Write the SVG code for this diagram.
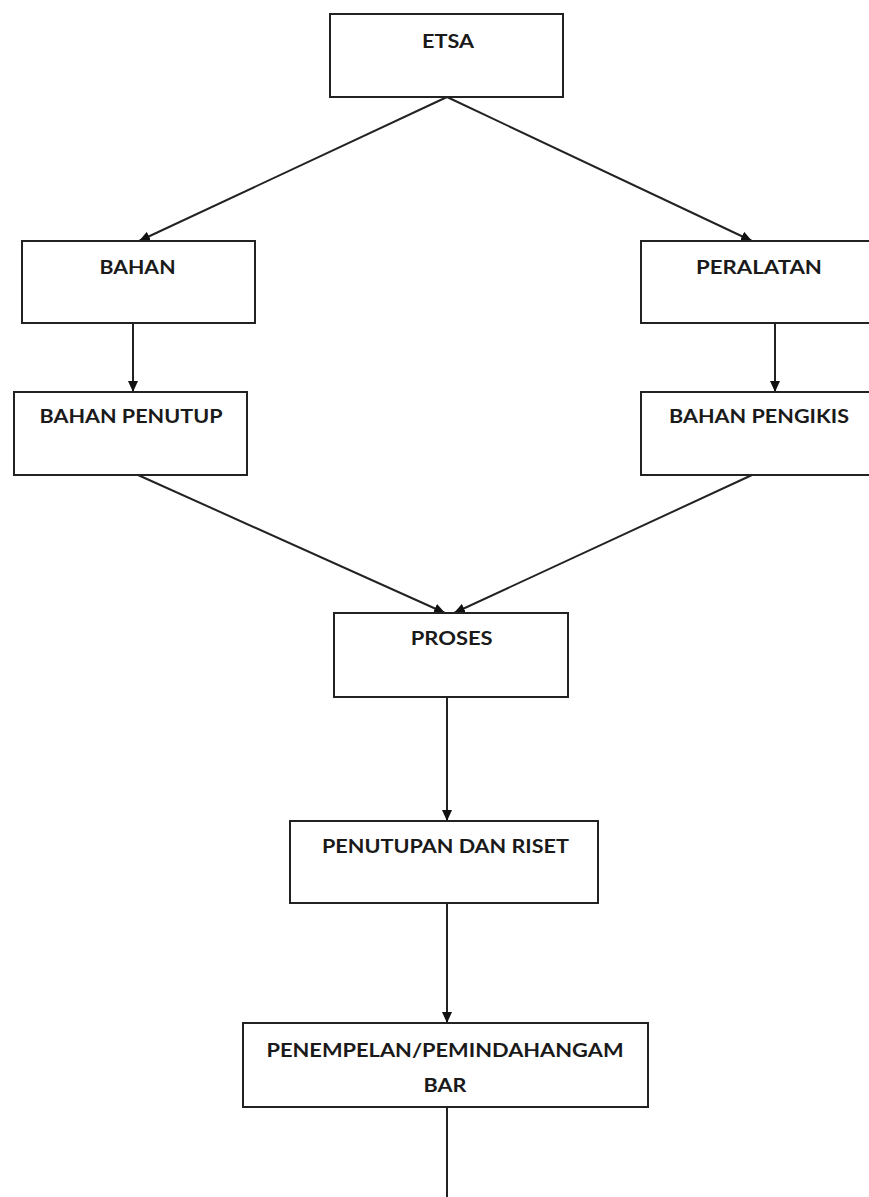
<svg xmlns="http://www.w3.org/2000/svg" width="869" height="1197" viewBox="0 0 869 1197">
<style>
.box{fill:#fff;stroke:#222;stroke-width:2}
.lbl{font-family:Lato,"Open Sans","Liberation Sans",sans-serif;font-weight:bold;font-size:18px;fill:#1a1a1a;text-anchor:middle}
.conn{stroke:#222;stroke-width:2;fill:none}
</style>
<defs>
<marker id="ah" markerUnits="userSpaceOnUse" markerWidth="12" markerHeight="10" viewBox="0 0 12 10" refX="11" refY="5" orient="auto">
<path d="M0,0 L11,5 L0,10 Z" fill="#111"/>
</marker>
</defs>
<rect width="869" height="1197" fill="#fff"/>
<g id="connectors">
<line class="conn" x1="447" y1="97" x2="139" y2="241" marker-end="url(#ah)"/>
<line class="conn" x1="447" y1="97" x2="752" y2="241" marker-end="url(#ah)"/>
<line class="conn" x1="133" y1="323" x2="133" y2="392" marker-end="url(#ah)"/>
<line class="conn" x1="775" y1="323" x2="775" y2="392" marker-end="url(#ah)"/>
<line class="conn" x1="138" y1="475" x2="445" y2="613" marker-end="url(#ah)"/>
<line class="conn" x1="752" y1="475" x2="454" y2="613" marker-end="url(#ah)"/>
<line class="conn" x1="447" y1="697" x2="447" y2="821" marker-end="url(#ah)"/>
<line class="conn" x1="447" y1="903" x2="447" y2="1023" marker-end="url(#ah)"/>
<line class="conn" x1="447" y1="1107" x2="447" y2="1197"/>
</g>
<g id="etsa">
<rect class="box" x="330" y="14" width="233" height="83"/>
<text class="lbl" x="448" y="48" textLength="52" lengthAdjust="spacingAndGlyphs">ETSA</text>
</g>
<g id="bahan">
<rect class="box" x="22" y="241" width="233" height="82"/>
<text class="lbl" x="137.5" y="274" textLength="76" lengthAdjust="spacingAndGlyphs">BAHAN</text>
</g>
<g id="peralatan">
<rect class="box" x="641" y="241" width="240" height="82"/>
<text class="lbl" x="759" y="274" textLength="126" lengthAdjust="spacingAndGlyphs">PERALATAN</text>
</g>
<g id="bahan-penutup">
<rect class="box" x="14" y="392" width="233" height="83"/>
<text class="lbl" x="131" y="423" textLength="183" lengthAdjust="spacingAndGlyphs">BAHAN PENUTUP</text>
</g>
<g id="bahan-pengikis">
<rect class="box" x="641" y="392" width="240" height="83"/>
<text class="lbl" x="759" y="423" textLength="180" lengthAdjust="spacingAndGlyphs">BAHAN PENGIKIS</text>
</g>
<g id="proses">
<rect class="box" x="334" y="613" width="234" height="84"/>
<text class="lbl" x="451.7" y="645" textLength="82" lengthAdjust="spacingAndGlyphs">PROSES</text>
</g>
<g id="penutupan">
<rect class="box" x="290" y="821" width="308" height="82"/>
<text class="lbl" x="445.5" y="853" textLength="247" lengthAdjust="spacingAndGlyphs">PENUTUPAN DAN RISET</text>
</g>
<g id="penempelan">
<rect class="box" x="243" y="1023" width="405" height="84"/>
<text class="lbl" x="445" y="1057" textLength="357" lengthAdjust="spacingAndGlyphs">PENEMPELAN/PEMINDAHANGAM</text>
<text class="lbl" x="445" y="1092" textLength="43" lengthAdjust="spacingAndGlyphs">BAR</text>
</g>
</svg>
